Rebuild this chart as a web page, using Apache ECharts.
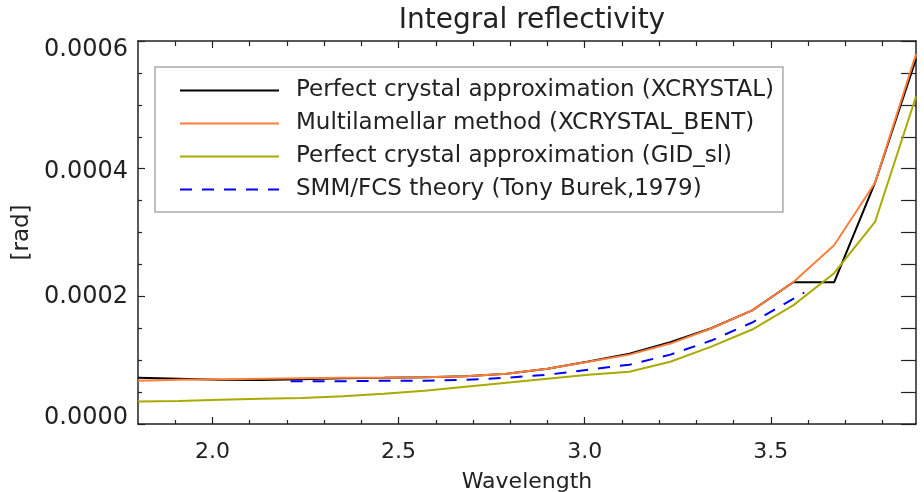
<!DOCTYPE html>
<html>
<head>
<meta charset="utf-8">
<script src="https://cdn.jsdelivr.net/npm/echarts@6/dist/echarts.min.js"></script>
<style>html,body{margin:0;padding:0;background:#fff}#c{width:924px;height:492px}</style>
</head>
<body>
<div id="c"></div>
<script>
// ---- data ----
const wavelength = [1.80,1.91,2.02,2.13,2.24,2.35,2.46,2.57,2.68,2.79,2.90,3.01,3.12,3.23,3.34,3.45,3.56,3.67,3.78,3.89];
const xcrystal = [7.24e-5,7.10e-5,6.95e-5,6.90e-5,7.00e-5,7.17e-5,7.24e-5,7.32e-5,7.48e-5,7.87e-5,8.66e-5,9.80e-5,11.0e-5,12.8e-5,15.0e-5,17.8e-5,22.2e-5,22.2e-5,37.8e-5,57.2e-5];
const xcrystalBent = [6.77e-5,6.93e-5,7.01e-5,7.09e-5,7.17e-5,7.24e-5,7.24e-5,7.32e-5,7.48e-5,7.87e-5,8.66e-5,9.76e-5,10.87e-5,12.6e-5,14.96e-5,17.8e-5,22.2e-5,28.0e-5,37.8e-5,57.95e-5];
const gidSl = [3.54e-5,3.62e-5,3.78e-5,3.94e-5,4.09e-5,4.33e-5,4.72e-5,5.20e-5,5.83e-5,6.46e-5,7.09e-5,7.72e-5,8.19e-5,9.76e-5,12.13e-5,14.80e-5,18.58e-5,23.62e-5,31.65e-5,51.3e-5];
const burekWavelength = [2.21,2.35,2.46,2.57,2.68,2.79,2.90,3.01,3.12,3.23,3.34,3.45,3.59];
const burek = [6.69e-5,6.69e-5,6.77e-5,6.77e-5,6.93e-5,7.24e-5,7.72e-5,8.50e-5,9.29e-5,10.87e-5,13.07e-5,15.9e-5,20.6e-5];
const seriesNames = ['Perfect crystal approximation (XCRYSTAL)','Multilamellar method (XCRYSTAL_BENT)','Perfect crystal approximation (GID_sl)','SMM/FCS theory (Tony Burek,1979)'];
const xMajorTicks = [2.0,2.5,3.0,3.5];
const xMinorTicks = [1.9,2.1,2.2,2.3,2.4,2.6,2.7,2.8,2.9,3.1,3.2,3.3,3.4,3.6,3.7,3.8];
const yTickLabels = ['0.0000','0.0002','0.0004','0.0006'];

const zip = (xs, ys) => xs.map((x, i) => [x, ys[i]]);
const FONT = 'DejaVu Sans';
const AX = '#222';

const xBase = (pos, show, ticks, len, labels) => ({
  type: 'value', position: pos, min: 1.8, max: 3.89, gridIndex: 0,
  axisLine: {show: show, onZero: false, lineStyle: {color: AX, width: 1.5}},
  axisTick: {show: true, inside: true, length: len, customValues: ticks, lineStyle: {color: AX, width: 1.2}},
  axisLabel: labels ? {show: true, customValues: xMajorTicks, formatter: v => v.toFixed(1), fontFamily: FONT, fontSize: 22, color: '#222', margin: 17} : {show: false},
  splitLine: {show: false}
});

// per-label vertical nudges (IDL places end labels inside the frame)
const yRich = {
  t0: {fontFamily: FONT, fontSize: 24, color: '#222', padding: [0, 0, 12, 0]},
  t1: {fontFamily: FONT, fontSize: 24, color: '#222', padding: [0, 0, 0, 0]},
  t2: {fontFamily: FONT, fontSize: 24, color: '#222', padding: [6, 0, 0, 0]},
  t3: {fontFamily: FONT, fontSize: 24, color: '#222', padding: [18, 0, 0, 0]}
};

const chart = echarts.init(document.getElementById('c'), null, {renderer: 'canvas'});
chart.setOption({
  animation: false,
  backgroundColor: '#fff',
  title: {
    text: 'Integral reflectivity', left: 527, top: 2, textAlign: 'center',
    textStyle: {fontFamily: FONT, fontSize: 28, fontWeight: 'normal', color: '#222'}
  },
  grid: {left: 138, right: 8, top: 41, bottom: 68, containLabel: false, outerBoundsMode: 'none'},
  legend: {
    orient: 'vertical', left: 155, top: 67,
    padding: [12, 9, 11, 24], itemGap: 10, itemWidth: 99, itemHeight: 20,
    borderColor: '#aaa', borderWidth: 1.5, backgroundColor: '#fff',
    itemStyle: {opacity: 0},
    textStyle: {fontFamily: FONT, fontSize: 23, lineHeight: 23, color: '#222', padding: [0, 0, 0, 12]},
    data: seriesNames
  },
  xAxis: [
    Object.assign(xBase('bottom', true, xMajorTicks, 7, true), {name: 'Wavelength', nameLocation: 'middle', nameGap: 47, nameTextStyle: {fontFamily: FONT, fontSize: 22, color: '#222'}}),
    xBase('bottom', false, xMinorTicks, 4, false),
    xBase('top', true, xMajorTicks, 7, false),
    xBase('top', false, xMinorTicks, 5, false)
  ],
  yAxis: [
    {
      type: 'value', position: 'left', min: 0, max: 0.0006, interval: 0.0002,
      name: '[rad]', nameLocation: 'middle', nameGap: 100, nameRotate: 90,
      nameTextStyle: {fontFamily: FONT, fontSize: 23, color: '#222'},
      axisLine: {show: true, lineStyle: {color: AX, width: 1.5}},
      axisTick: {show: true, inside: true, length: 7, lineStyle: {color: AX, width: 1.2}},
      minorTick: {show: true, splitNumber: 4, length: 4, lineStyle: {color: AX, width: 1.2}},
      axisLabel: {margin: 10, rich: yRich, formatter: (v, i) => '{t' + i + '|' + yTickLabels[i] + '}'},
      splitLine: {show: false}, minorSplitLine: {show: false}
    },
    {
      type: 'value', position: 'right', min: 0, max: 0.0006, interval: 0.0002,
      axisLine: {show: true, lineStyle: {color: AX, width: 1.5}},
      axisTick: {show: true, inside: true, length: 15, lineStyle: {color: AX, width: 1.2}},
      minorTick: {show: true, splitNumber: 4, length: 15, lineStyle: {color: AX, width: 1.2}},
      axisLabel: {show: false}, splitLine: {show: false}
    }
  ],
  series: [
    {name: seriesNames[0], type: 'line', data: zip(wavelength, xcrystal), symbol: 'none', color: '#000000', lineStyle: {color: '#000000', width: 2}},
    {name: seriesNames[1], type: 'line', data: zip(wavelength, xcrystalBent), symbol: 'none', color: '#ff7f3a', lineStyle: {color: '#ff7f3a', width: 2}},
    {name: seriesNames[2], type: 'line', data: zip(wavelength, gidSl), symbol: 'none', color: '#aaaa00', lineStyle: {color: '#aaaa00', width: 2}},
    {name: seriesNames[3], type: 'line', data: zip(burekWavelength, burek), symbol: 'none', color: '#0000ff', lineStyle: {color: '#0000ff', width: 2, type: [12, 10]}}
  ]
});
</script>
</body>
</html>
